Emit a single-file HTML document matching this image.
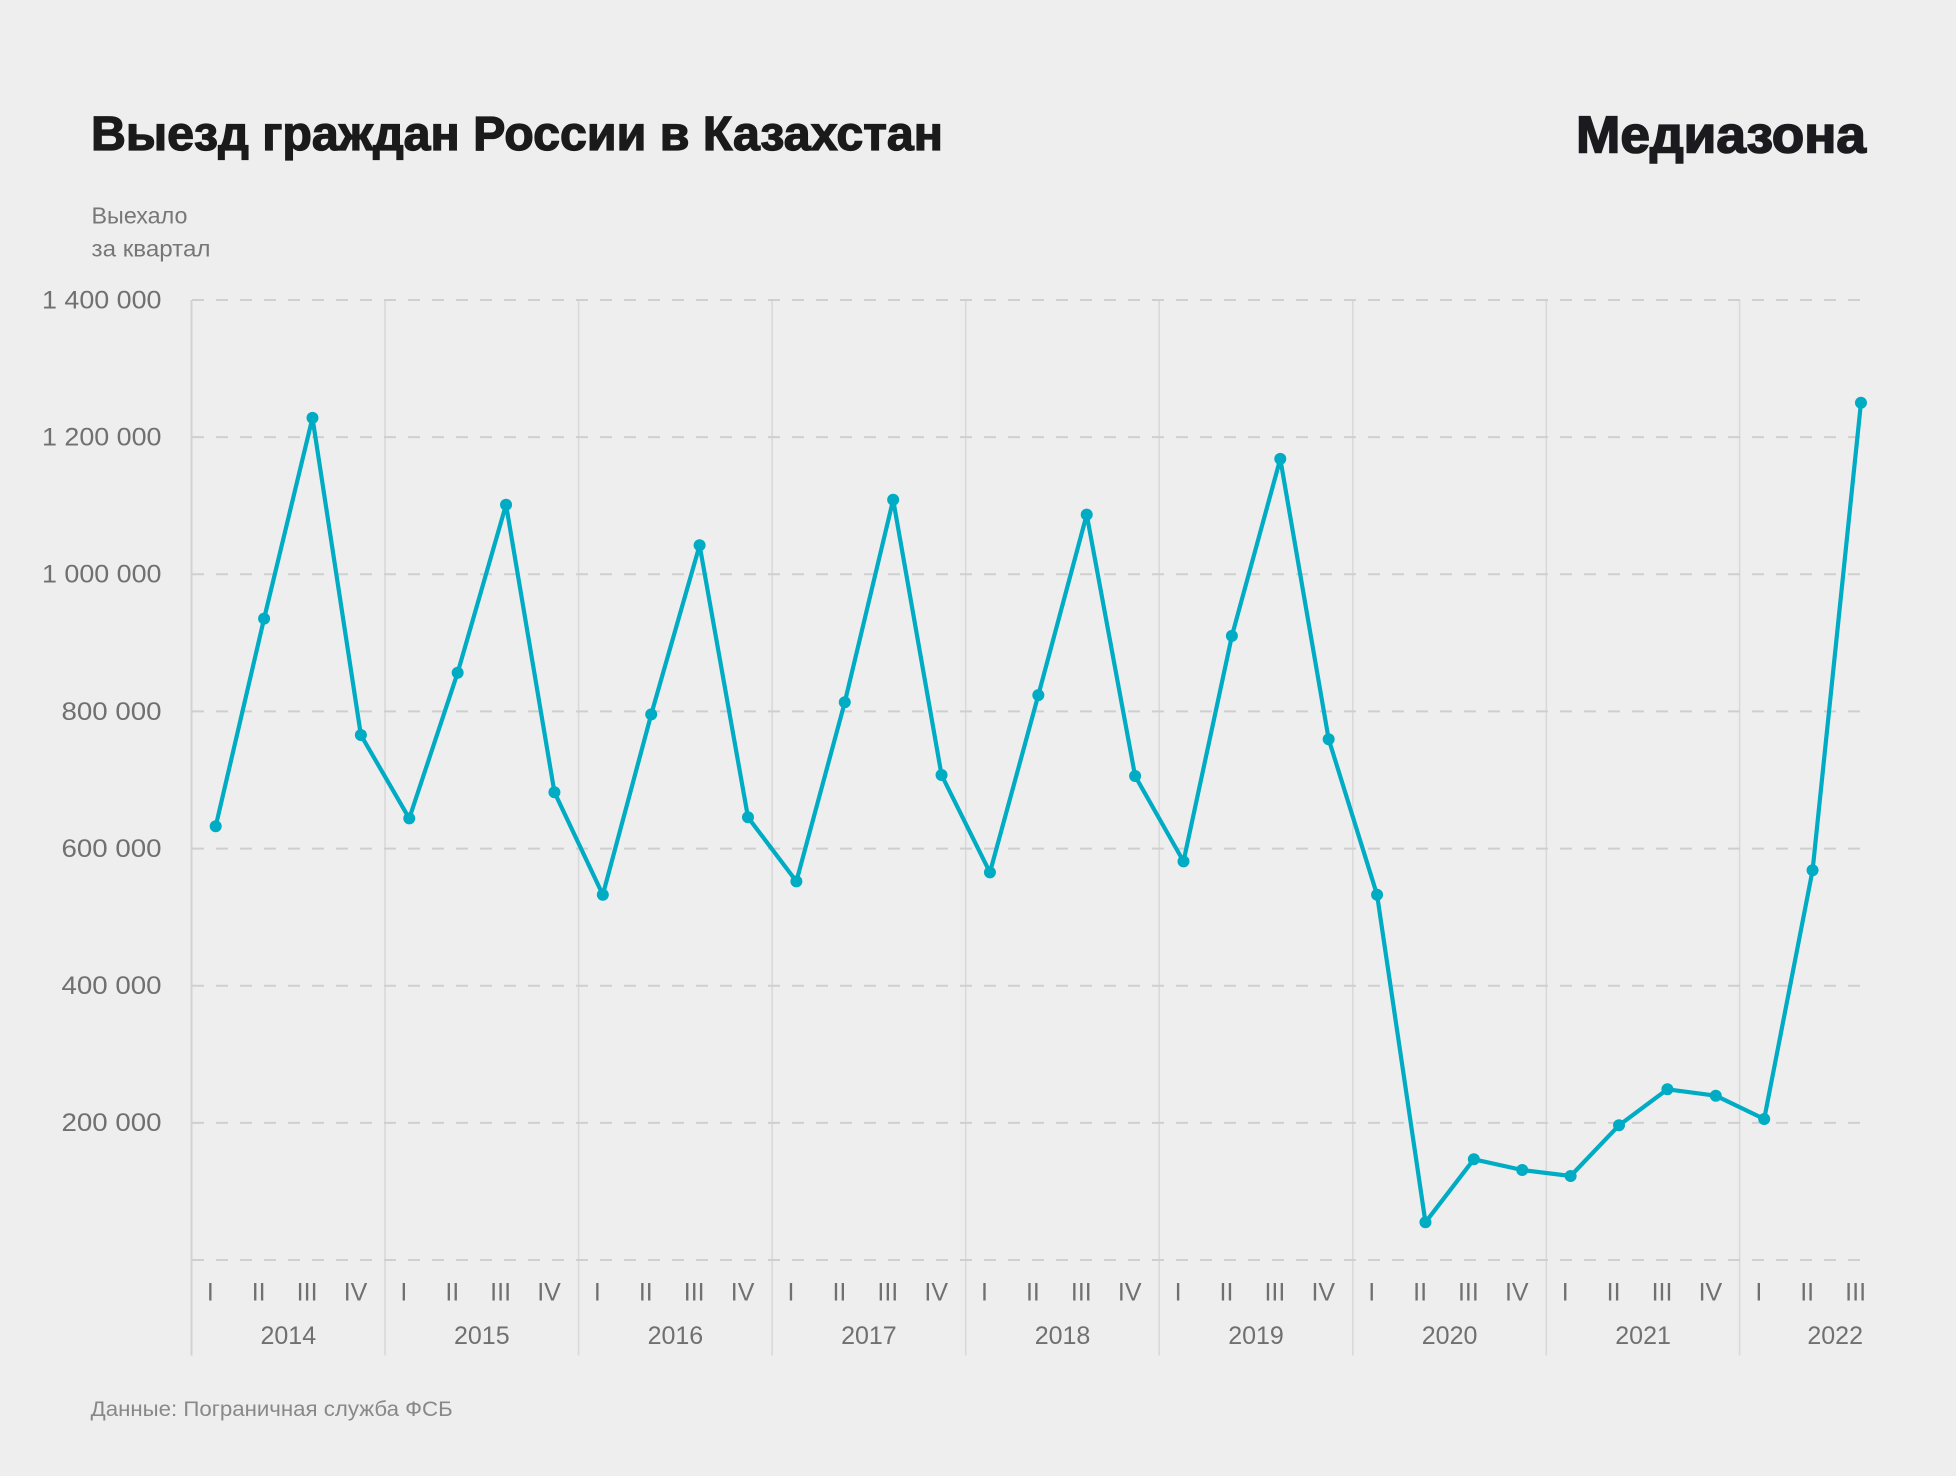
<!DOCTYPE html>
<html>
<head>
<meta charset="utf-8">
<style>
  html, body { margin:0; padding:0; background:#eeeeee; }
  body { width:1956px; height:1476px; overflow:hidden; }
  svg { display:block; }
  text { font-family: "Liberation Sans", "Noto Sans CJK SC", sans-serif; }
</style>
</head>
<body>
<svg width="1956" height="1476" viewBox="0 0 1956 1476" xmlns="http://www.w3.org/2000/svg">
  <rect x="0" y="0" width="1956" height="1476" fill="#eeeeee"/>

  <!-- Title & brand -->
  <text x="91" y="150" font-size="48" font-weight="bold" fill="#1a1a1a" stroke="#1a1a1a" stroke-width="1.3" textLength="852" lengthAdjust="spacingAndGlyphs">Выезд граждан России в Казахстан</text>
  <text x="1576" y="152.5" font-size="52" font-weight="bold" fill="#1b1b1f" stroke="#1b1b1f" stroke-width="1.6" textLength="290" lengthAdjust="spacingAndGlyphs">Медиазона</text>

  <!-- Axis title -->
  <text x="91.5" y="223.3" font-size="23" fill="#777777" textLength="96" lengthAdjust="spacingAndGlyphs">Выехало</text>
  <text x="91.5" y="256.7" font-size="23" fill="#777777" textLength="119" lengthAdjust="spacingAndGlyphs">за квартал</text>

  <!-- Vertical separators -->
  <g stroke="#d9d9d9" stroke-width="1.6">
    <line x1="191.5" y1="300" x2="191.5" y2="1355.5" stroke="#d2d2d2" stroke-width="2"/>
    <line x1="385.05" y1="300" x2="385.05" y2="1355.5"/>
    <line x1="578.6" y1="300" x2="578.6" y2="1355.5"/>
    <line x1="772.15" y1="300" x2="772.15" y2="1355.5"/>
    <line x1="965.7" y1="300" x2="965.7" y2="1355.5"/>
    <line x1="1159.25" y1="300" x2="1159.25" y2="1355.5"/>
    <line x1="1352.8" y1="300" x2="1352.8" y2="1355.5"/>
    <line x1="1546.35" y1="300" x2="1546.35" y2="1355.5"/>
    <line x1="1739.6" y1="300" x2="1739.6" y2="1355.5"/>
  </g>

  <!-- Horizontal dashed gridlines -->
  <g stroke="#cfcfcf" stroke-width="2" stroke-dasharray="12 12">
    <line x1="192" y1="300" x2="1860" y2="300"/>
    <line x1="192" y1="437.14" x2="1860" y2="437.14"/>
    <line x1="192" y1="574.29" x2="1860" y2="574.29"/>
    <line x1="192" y1="711.43" x2="1860" y2="711.43"/>
    <line x1="192" y1="848.57" x2="1860" y2="848.57"/>
    <line x1="192" y1="985.71" x2="1860" y2="985.71"/>
    <line x1="192" y1="1122.86" x2="1860" y2="1122.86"/>
    <line x1="192" y1="1260" x2="1860" y2="1260"/>
  </g>

  <!-- Y tick labels -->
  <g font-size="25" fill="#707070" text-anchor="end">
    <text x="161.5" y="308.4" textLength="119.5" lengthAdjust="spacingAndGlyphs">1 400 000</text>
    <text x="161.5" y="445.5" textLength="119.5" lengthAdjust="spacingAndGlyphs">1 200 000</text>
    <text x="161.5" y="582.7" textLength="119.5" lengthAdjust="spacingAndGlyphs">1 000 000</text>
    <text x="161.5" y="719.8" textLength="100" lengthAdjust="spacingAndGlyphs">800 000</text>
    <text x="161.5" y="857" textLength="100" lengthAdjust="spacingAndGlyphs">600 000</text>
    <text x="161.5" y="994.1" textLength="100" lengthAdjust="spacingAndGlyphs">400 000</text>
    <text x="161.5" y="1131.2" textLength="100" lengthAdjust="spacingAndGlyphs">200 000</text>
  </g>

  <!-- Quarter labels -->
  <g font-size="25" fill="#707070" text-anchor="middle">
    <text x="210.3" y="1300.7">I</text><text x="258.7" y="1300.7">II</text><text x="307.1" y="1300.7">III</text><text x="355.5" y="1300.7">IV</text>
    <text x="403.9" y="1300.7">I</text><text x="452.3" y="1300.7">II</text><text x="500.6" y="1300.7">III</text><text x="549" y="1300.7">IV</text>
    <text x="597.4" y="1300.7">I</text><text x="645.8" y="1300.7">II</text><text x="694.2" y="1300.7">III</text><text x="742.6" y="1300.7">IV</text>
    <text x="791" y="1300.7">I</text><text x="839.4" y="1300.7">II</text><text x="887.8" y="1300.7">III</text><text x="936.2" y="1300.7">IV</text>
    <text x="984.5" y="1300.7">I</text><text x="1032.9" y="1300.7">II</text><text x="1081.3" y="1300.7">III</text><text x="1129.7" y="1300.7">IV</text>
    <text x="1178.1" y="1300.7">I</text><text x="1226.5" y="1300.7">II</text><text x="1274.9" y="1300.7">III</text><text x="1323.3" y="1300.7">IV</text>
    <text x="1371.7" y="1300.7">I</text><text x="1420.1" y="1300.7">II</text><text x="1468.4" y="1300.7">III</text><text x="1516.8" y="1300.7">IV</text>
    <text x="1565.2" y="1300.7">I</text><text x="1613.6" y="1300.7">II</text><text x="1662" y="1300.7">III</text><text x="1710.4" y="1300.7">IV</text>
    <text x="1758.8" y="1300.7">I</text><text x="1807.2" y="1300.7">II</text><text x="1855.6" y="1300.7">III</text>
  </g>

  <!-- Year labels -->
  <g font-size="25" fill="#707070" text-anchor="middle">
    <text x="288.3" y="1344">2014</text>
    <text x="481.8" y="1344">2015</text>
    <text x="675.4" y="1344">2016</text>
    <text x="868.9" y="1344">2017</text>
    <text x="1062.5" y="1344">2018</text>
    <text x="1256" y="1344">2019</text>
    <text x="1449.6" y="1344">2020</text>
    <text x="1643.1" y="1344">2021</text>
    <text x="1863" y="1344" text-anchor="end">2022</text>
  </g>

  <!-- Series line -->
  <polyline fill="none" stroke="#00abc4" stroke-width="4.2" stroke-linejoin="round" stroke-linecap="round"
    points="215.7,826.3 264.09,618.6 312.48,417.9 360.87,735 409.26,818.4 457.65,672.7 506.04,504.7 554.43,792.2 602.82,894.8 651.21,714.4 699.6,545.3 747.99,817.3 796.38,881.4 844.77,702.3 893.16,499.8 941.55,775 989.94,872.4 1038.33,695.1 1086.72,514.6 1135.11,776 1183.5,861.4 1231.89,635.9 1280.28,458.9 1328.67,739.2 1377.06,894.8 1425.45,1222.3 1473.84,1159.3 1522.23,1170 1570.62,1176 1619.01,1125.3 1667.4,1089.3 1715.79,1095.7 1764.18,1119 1812.57,870.3 1860.96,402.8"/>

  <!-- Markers -->
  <g fill="#00abc4">
    <circle cx="215.7" cy="826.3" r="6"/><circle cx="264.09" cy="618.6" r="6"/><circle cx="312.48" cy="417.9" r="6"/><circle cx="360.87" cy="735" r="6"/>
    <circle cx="409.26" cy="818.4" r="6"/><circle cx="457.65" cy="672.7" r="6"/><circle cx="506.04" cy="504.7" r="6"/><circle cx="554.43" cy="792.2" r="6"/>
    <circle cx="602.82" cy="894.8" r="6"/><circle cx="651.21" cy="714.4" r="6"/><circle cx="699.6" cy="545.3" r="6"/><circle cx="747.99" cy="817.3" r="6"/>
    <circle cx="796.38" cy="881.4" r="6"/><circle cx="844.77" cy="702.3" r="6"/><circle cx="893.16" cy="499.8" r="6"/><circle cx="941.55" cy="775" r="6"/>
    <circle cx="989.94" cy="872.4" r="6"/><circle cx="1038.33" cy="695.1" r="6"/><circle cx="1086.72" cy="514.6" r="6"/><circle cx="1135.11" cy="776" r="6"/>
    <circle cx="1183.5" cy="861.4" r="6"/><circle cx="1231.89" cy="635.9" r="6"/><circle cx="1280.28" cy="458.9" r="6"/><circle cx="1328.67" cy="739.2" r="6"/>
    <circle cx="1377.06" cy="894.8" r="6"/><circle cx="1425.45" cy="1222.3" r="6"/><circle cx="1473.84" cy="1159.3" r="6"/><circle cx="1522.23" cy="1170" r="6"/>
    <circle cx="1570.62" cy="1176" r="6"/><circle cx="1619.01" cy="1125.3" r="6"/><circle cx="1667.4" cy="1089.3" r="6"/><circle cx="1715.79" cy="1095.7" r="6"/>
    <circle cx="1764.18" cy="1119" r="6"/><circle cx="1812.57" cy="870.3" r="6"/><circle cx="1860.96" cy="402.8" r="6"/>
  </g>

  <!-- Source -->
  <text x="90.7" y="1416" font-size="21.5" fill="#888888" textLength="362" lengthAdjust="spacingAndGlyphs">Данные: Пограничная служба ФСБ</text>
</svg>
</body>
</html>
